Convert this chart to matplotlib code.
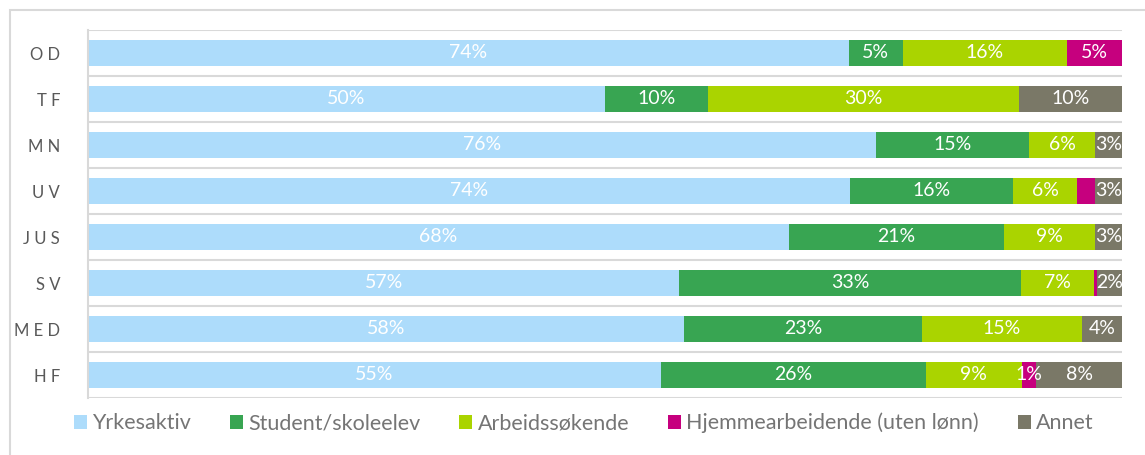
import numpy as np
import matplotlib
matplotlib.use('Agg')
import matplotlib.pyplot as plt
from matplotlib.patches import Rectangle

plt.rcParams['font.family'] = ['Lato', 'DejaVu Sans']

# Data (prosent), rekkefolge fra topp til bunn
fakulteter = ['OD', 'TF', 'MN', 'UV', 'JUS', 'SV', 'MED', 'HF']
yrkesaktiv = [73.6, 50.0, 76.2, 73.7, 67.8, 57.2, 57.6, 55.4]
student = [5.2, 10.0, 14.8, 15.8, 20.8, 33.0, 23.1, 25.6]
arbeidssokende = [15.9, 30.0, 6.4, 6.1, 8.8, 7.1, 15.4, 9.3]
hjemme = [5.3, 0.0, 0.0, 1.8, 0.0, 0.3, 0.0, 1.4]
annet = [0.0, 10.0, 2.6, 2.6, 2.6, 2.4, 3.9, 8.3]

serier = ['Yrkesaktiv', 'Student/skoleelev', 'Arbeidssøkende',
          'Hjemmearbeidende (uten lønn)', 'Annet']
farger = ['#ADDCFB', '#38A552', '#AAD400', '#C6007E', '#7A7867']
# segmenter uten etikett i originalen
skjult = [('UV', 'Hjemmearbeidende (uten lønn)')]

fig = plt.figure(figsize=(11.45, 4.55), dpi=100)
ax = fig.add_axes([88 / 1145, 1 - 398 / 455, (1122 - 88) / 1145, 368 / 455])

# ramme rundt figuren (hoyre og nedre kant utenfor bildet)
fig.patches.append(Rectangle((10 / 1145, -10 / 455), 1150 / 1145, 455 / 455,
                             transform=fig.transFigure, fill=False,
                             edgecolor='#D9D9D9', linewidth=1.5))

y = np.arange(len(fakulteter))
venstre = np.zeros(len(fakulteter))
for navn, verdier, farge in zip(serier, [yrkesaktiv, student, arbeidssokende, hjemme, annet], farger):
    verdier = np.array(verdier)
    ax.barh(y, verdier, left=venstre, height=0.56, color=farge, label=navn,
            edgecolor='none')
    for i, v in enumerate(verdier):
        if v < 1 or (fakulteter[i], navn) in skjult:
            continue
        ax.text(venstre[i] + v / 2, y[i], '{:.0f}%'.format(v), ha='center',
                va='center', color='white', fontsize=14)
    venstre += verdier

ax.set_xlim(0, 100)
ax.set_ylim(len(fakulteter) - 0.5, -0.5)
ax.set_yticks(y)
ax.set_yticklabels([' '.join(f) for f in fakulteter], color='#595959', fontsize=12)
ax.tick_params(axis='y', length=0, pad=20)
ax.set_xticks([])

for grense in np.arange(-0.5, len(fakulteter), 1):
    ax.axhline(grense, color='#D9D9D9', linewidth=1.5, zorder=0)
for side in ['top', 'right', 'bottom']:
    ax.spines[side].set_visible(False)
ax.spines['left'].set_color('#D9D9D9')
ax.spines['left'].set_linewidth(1.5)

leg = fig.legend(loc='center', bbox_to_anchor=(0.51, 1 - 423 / 455), ncol=5,
                 frameon=False, fontsize=15.5, handlelength=0.6, handleheight=0.6,
                 handletextpad=0.25, columnspacing=1.8)
for t in leg.get_texts():
    t.set_color('#757575')

fig.savefig('out.png', dpi=100)
